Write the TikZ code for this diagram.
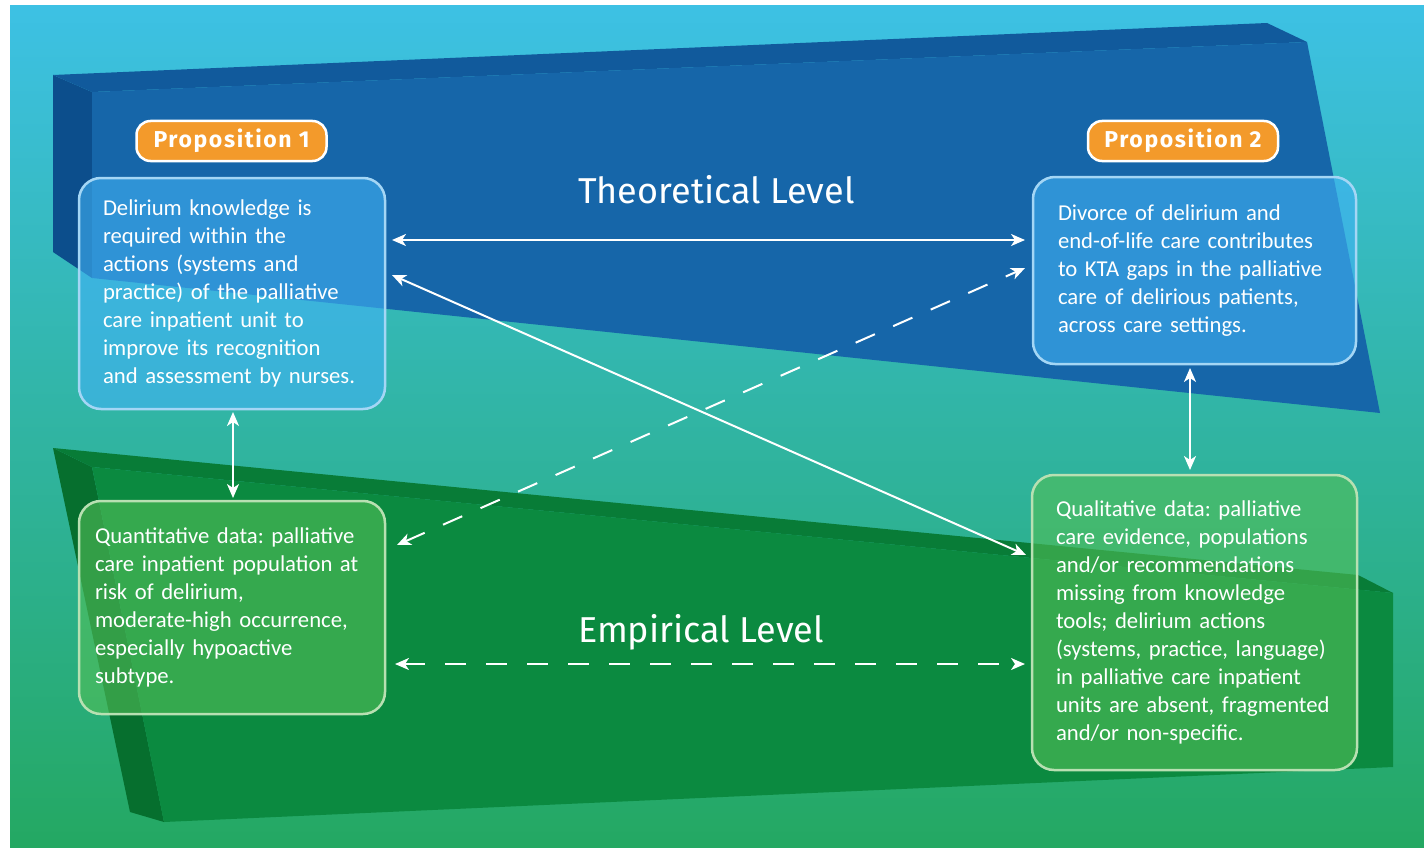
\documentclass[tikz,border=0pt]{standalone}
\usepackage{fontspec}
\setmainfont{Carlito}
\newfontfamily\firafont{Fira Sans}
\newfontfamily\firaspaced{Fira Sans}[LetterSpace=7]
\usetikzlibrary{arrows.meta}
\definecolor{bgtop}{HTML}{3DC1E4}
\definecolor{bgmid}{HTML}{2AADBB}
\definecolor{bgbot}{HTML}{24A862}
\definecolor{bluefront}{HTML}{1666A9}
\definecolor{bluetop}{HTML}{115A9C}
\definecolor{blueside}{HTML}{0C4E8C}
\definecolor{greenfront}{HTML}{0B8A40}
\definecolor{greentop}{HTML}{087C37}
\definecolor{greenside}{HTML}{066F2E}
\definecolor{tfill}{HTML}{40B2F5}
\definecolor{tborder}{HTML}{A4D6F5}
\definecolor{efill}{HTML}{51BE58}
\definecolor{eborder}{HTML}{B8E0B2}
\definecolor{proporange}{HTML}{F39A2B}
\tikzset{
  basebox/.style={line width=2.5pt, fill opacity=0.6, text opacity=1, rounded corners=22pt,
    align=left, text=white, inner xsep=0pt, inner ysep=0pt, outer sep=0pt,
    font=\fontsize{22.7}{28}\selectfont\frenchspacing},
  tbox/.style={basebox, draw=tborder, fill=tfill},
  ebox/.style={basebox, draw=eborder, fill=efill},
  proplabel/.style={draw=white, line width=2.5pt, fill=proporange, rounded corners=14pt,
    minimum width=190pt, minimum height=40pt, text=white, outer sep=0pt,
    font=\firaspaced\bfseries\fontsize{23}{26}\selectfont},
  leveltitle/.style={text=white, anchor=base west, inner sep=0pt, font=\firafont\fontsize{36}{40}\selectfont},
  link/.style={draw=white, line width=2pt, {Stealth[length=14pt,width=12pt,inset=4pt]}-{Stealth[length=14pt,width=12pt,inset=4pt]}},
  dashlink/.style={link, dash pattern=on 21pt off 20pt}
}
\begin{document}
\begin{tikzpicture}[x=1pt,y=-1pt]
\useasboundingbox (0,0) rectangle (1424,848);
\fill[white] (0,0) rectangle (1424,848);
\shade[top color=bgtop, middle color=bgmid, bottom color=bgbot] (10,6) rectangle (1424,848);
% blue slab
\fill[blueside] (53,75) -- (92,92) -- (92,278) -- (53,252) -- cycle;
\fill[bluetop] (53,75) -- (1267,23) -- (1307,42) -- (92,92) -- cycle;
\fill[bluefront] (92,92) -- (1307,42) -- (1380,413) -- (92,278) -- cycle;
% green slab
\fill[greenside] (53,448) -- (92,467) -- (164,822) -- (130,812) -- cycle;
\fill[greentop] (53,448) -- (1358,575) -- (1393,593) -- (92,467) -- cycle;
\fill[greenfront] (92,467) -- (1393,593) -- (1393,767) -- (164,822) -- cycle;
% titles
\node[leveltitle] (theo) at (578,203) {Theoretical Level};
\node[leveltitle] (emp) at (578,642) {Empirical Level};
% labels
\node[proplabel] (p1) at (231.5,141) {Proposition 1};
\node[proplabel] (p2) at (1183,141) {Proposition 2};
% boxes
\node[tbox, minimum width=306pt, minimum height=231pt, text width=258pt] (b1) at (232,293.5)
 {\begin{tabular}{@{}l@{}}Delirium knowledge is\\ required within the\\ actions (systems and\\ practice) of the palliative\\ care inpatient unit to\\ improve its recognition\\ and assessment by nurses.\end{tabular}};
\node[tbox, minimum width=323pt, minimum height=187pt, text width=273pt] (b2) at (1194.5,270.5)
 {\begin{tabular}{@{}l@{}}Divorce of delirium and\\ end-of-life care contributes\\ to KTA gaps in the palliative\\ care of delirious patients,\\ across care settings.\end{tabular}};
\node[ebox, minimum width=306pt, minimum height=213pt, text width=274pt] (b3) at (232,607.5)
 {\begin{tabular}{@{}l@{}}Quantitative data: palliative\\ care inpatient population at\\ risk of delirium,\\ moderate-high occurrence,\\ especially hypoactive\\ subtype.\end{tabular}};
\node[ebox, minimum width=325pt, minimum height=295pt, text width=277pt] (b4) at (1194.5,622.5)
 {\begin{tabular}{@{}l@{}}Qualitative data: palliative\\ care evidence, populations\\ and/or recommendations\\ missing from knowledge\\ tools; delirium actions\\ (systems, practice, language)\\ in palliative care inpatient\\ units are absent, fragmented\\ and/or non-specific.\end{tabular}};
% connectors
\draw[link] ([shift={(7,-53.5)}]b1.east) -- ([shift={(-8,-30.5)}]b2.west);
\draw[link] ([shift={(7,-18.5)}]b1.east) -- ([shift={(-6,-67.5)}]b4.west);
\draw[dashlink] ([shift={(12,-62.5)}]b3.east) -- ([shift={(-8,-2.5)}]b2.west);
\draw[dashlink] ([shift={(10,56.5)}]b3.east) -- ([shift={(-7,41.5)}]b4.west);
\draw[link] ([shift={(1,3)}]b1.south) -- ([shift={(1,-3)}]b3.north);
\draw[link] ([shift={(-4.5,4)}]b2.south) -- ([shift={(-4.5,-5)}]b4.north);
\end{tikzpicture}
\end{document}
